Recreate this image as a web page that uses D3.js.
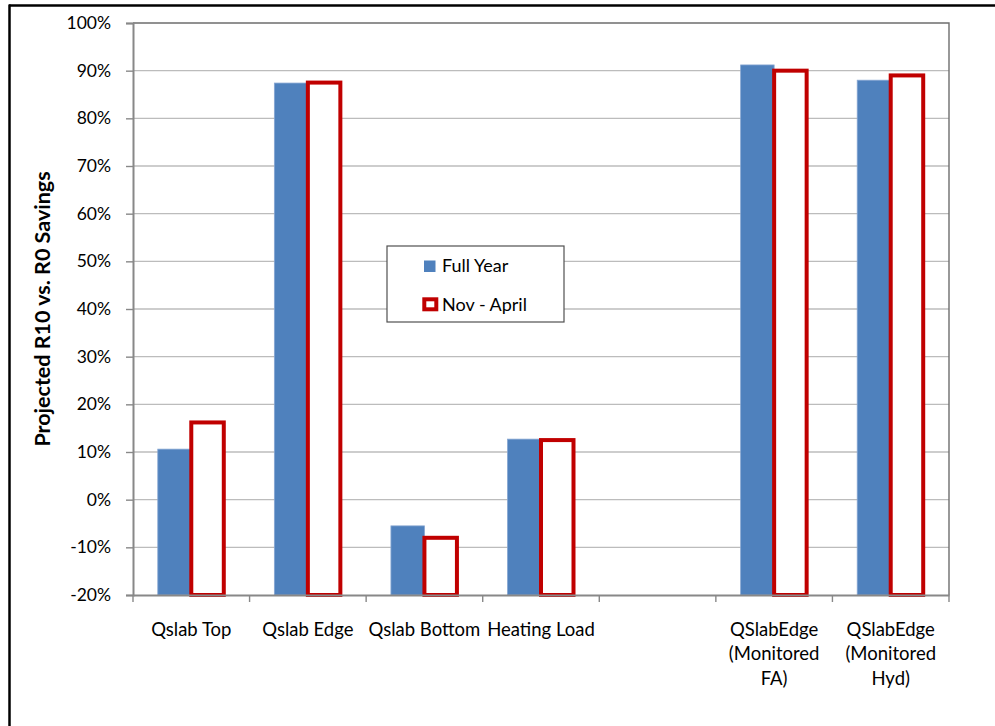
<!DOCTYPE html>
<html><head><meta charset="utf-8">
<script src="https://cdn.jsdelivr.net/npm/d3@7/dist/d3.min.js"></script>
<style>
body{margin:0;background:#fff;}
svg{display:block;}
text{font-family:Lato, "Open Sans", sans-serif;fill:#000;}
</style></head>
<body><svg id="c" width="995" height="726"></svg>
<script>
// ---- data ----
const categories = ["Qslab Top","Qslab Edge","Qslab Bottom","Heating Load","","QSlabEdge (Monitored FA)","QSlabEdge (Monitored Hyd)"];
const categoryLines = [["Qslab Top"],["Qslab Edge"],["Qslab Bottom"],["Heating Load"],[""],["QSlabEdge","(Monitored","FA)"],["QSlabEdge","(Monitored","Hyd)"]];
const fullYear = [10.6, 87.4, -5.5, 12.7, null, 91.2, 88.0];
const novApril = [16.2, 87.5, -8.0, 12.5, null, 90.0, 89.0];
const seriesNames = ["Full Year","Nov - April"];
const yTicks = [-20,-10,0,10,20,30,40,50,60,70,80,90,100];
const yTitle = "Projected R10 vs. R0 Savings";

// ---- layout ----
const svg = d3.select("#c");
const L = 133, R = 949, T = 23, B = 595;
const x = d3.scaleBand().domain(categories.map((c,i)=>i)).range([L,R]).padding(0);
const y = d3.scaleLinear().domain([-20,100]).range([B,T]);
const bw = x.bandwidth();
const barW = 33.5;
const x1 = d3.scaleBand().domain([0,1]).range([0, barW*2]);

// outer frame
svg.append("line").attr("x1",9).attr("x2",995).attr("y1",5.5).attr("y2",5.5).attr("stroke","#000").attr("stroke-width",2.5);
svg.append("line").attr("x1",9.5).attr("x2",9.5).attr("y1",4.5).attr("y2",726).attr("stroke","#000").attr("stroke-width",2.5);

// gridlines
svg.append("g").selectAll("line").data(yTicks.filter(t=>t>-20 && t<100)).join("line")
  .attr("x1",L).attr("x2",R).attr("y1",d=>y(d)).attr("y2",d=>y(d))
  .attr("stroke","#bcbcbc").attr("stroke-width",1.4);

// plot area border top/right
svg.append("path").attr("d",`M${L},${T}H${R}V${B}`).attr("fill","none").attr("stroke","#6e6e6e").attr("stroke-width",1.4);

// legend
const lg = svg.append("g");
lg.append("rect").attr("x",387).attr("y",246).attr("width",177).attr("height",76)
  .attr("fill","#fff").attr("stroke","#505050").attr("stroke-width",1.2);
lg.append("rect").attr("x",424).attr("y",260.5).attr("width",11.5).attr("height",11.5).attr("fill","#4f81bd");
lg.append("rect").attr("x",424.3).attr("y",299.3).attr("width",12).attr("height",10)
  .attr("fill","#fff").attr("stroke","#c00000").attr("stroke-width",4);
lg.append("text").attr("x",442).attr("y",272).attr("font-size",18).text(seriesNames[0]);
lg.append("text").attr("x",442).attr("y",310.5).attr("font-size",18).text(seriesNames[1]);

// bars
const groups = svg.append("g").selectAll("g").data(categories.map((c,i)=>i)).join("g")
  .attr("transform",i=>`translate(${x(i)+bw/2-barW},0)`);
groups.filter(i=>fullYear[i]!=null).append("rect")
  .attr("x",x1(0)).attr("width",barW)
  .attr("y",i=>y(fullYear[i])).attr("height",i=>y(-20)-y(fullYear[i]))
  .attr("fill","#4f81bd").attr("stroke","#86a6d2").attr("stroke-width",0.8);
groups.filter(i=>novApril[i]!=null).append("rect")
  .attr("x",x1(1)).attr("width",barW-1)
  .attr("y",i=>y(novApril[i])).attr("height",i=>y(-20)-y(novApril[i]))
  .attr("fill","#fff").attr("stroke","#c00000").attr("stroke-width",4);

// y axis
const yAxis = svg.append("g").attr("transform",`translate(${L},0)`)
  .call(d3.axisLeft(y).tickValues(yTicks).tickFormat(d=>d+"%").tickSize(7).tickPadding(15));
yAxis.select(".domain").attr("stroke","#888").attr("stroke-width",2);
yAxis.selectAll(".tick line").attr("stroke","#888").attr("stroke-width",1.4);
yAxis.selectAll(".tick text").attr("font-family","Lato, sans-serif").attr("font-size",17.5).attr("fill","#000");

// x axis
const xAxis = svg.append("g").attr("transform",`translate(0,${B})`)
  .call(d3.axisBottom(x).tickValues([]).tickSize(0));
xAxis.select(".domain").attr("stroke","#888").attr("stroke-width",2);
svg.append("g").selectAll("line").data(d3.range(categories.length+1)).join("line")
  .attr("x1",i=>L+i*bw).attr("x2",i=>L+i*bw).attr("y1",B).attr("y2",B+7)
  .attr("stroke","#888").attr("stroke-width",1.4);
const xl = svg.append("g").selectAll("text").data(categories.map((c,i)=>i)).join("text")
  .attr("text-anchor","middle").attr("font-size",18.5)
  .attr("x",i=>x(i)+bw/2).attr("y",636);
xl.selectAll("tspan").data(i=>categoryLines[i]).join("tspan")
  .attr("x",function(){return d3.select(this.parentNode).attr("x");})
  .attr("dy",(d,k)=>k===0?0:24.3).text(d=>d);

// y title
svg.append("text").attr("transform",`translate(50,${(T+B)/2}) rotate(-90)`)
  .attr("text-anchor","middle").attr("font-weight","bold").attr("font-size",21.5).text(yTitle);
</script></body></html>
